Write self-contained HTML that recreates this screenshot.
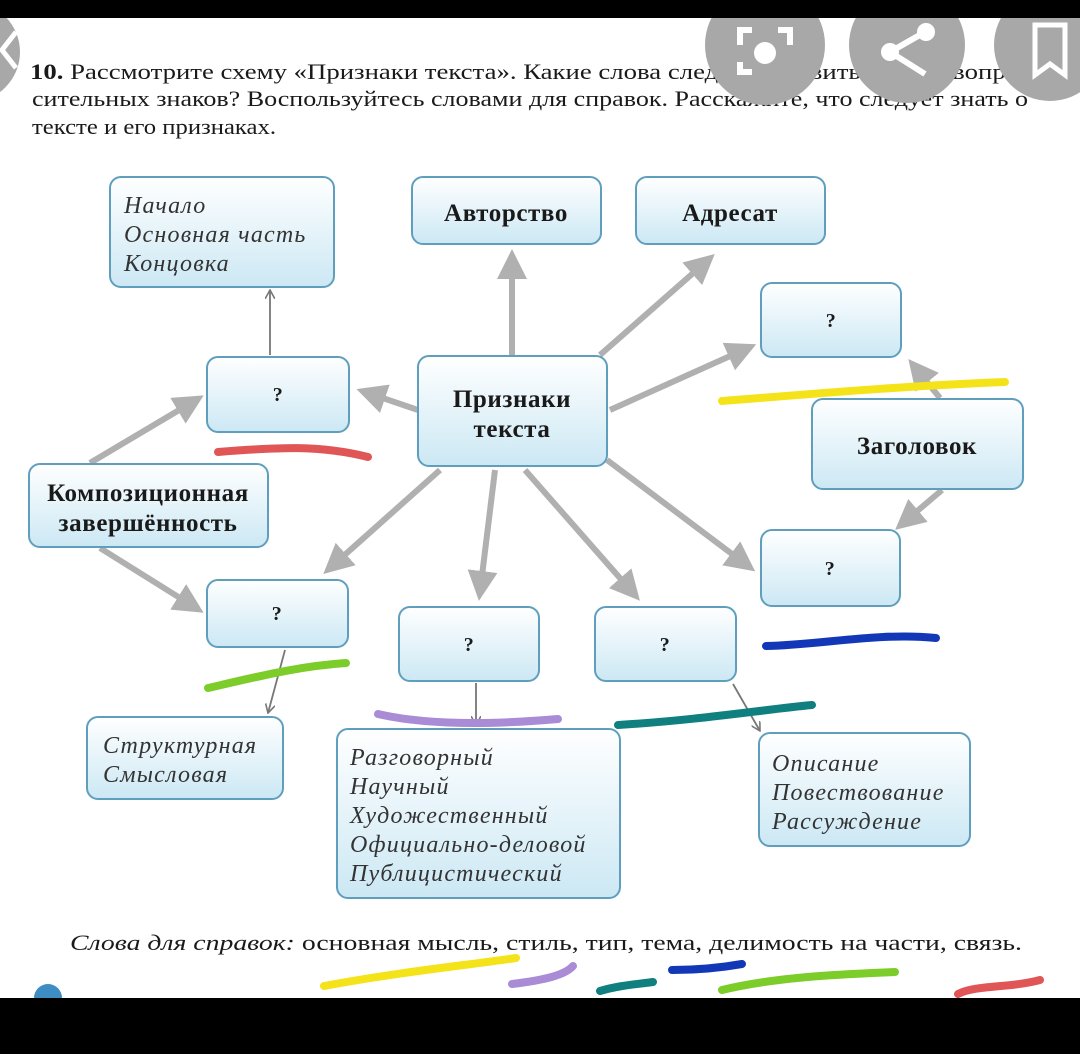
<!DOCTYPE html>
<html><head><meta charset="utf-8"><style>
html,body{margin:0;padding:0;background:#fff;}
svg{display:block;}
.s{font-family:"Liberation Serif",serif;fill:#1a1a1a;}
.b{font-weight:bold;font-size:25px;letter-spacing:0.6px;}
.i{font-style:italic;font-size:24px;letter-spacing:1.2px;fill:#333;}
</style></head><body>
<svg width="1080" height="1054" viewBox="0 0 1080 1054" xmlns="http://www.w3.org/2000/svg">
<defs>
<linearGradient id="g" x1="0" y1="0" x2="0" y2="1"><stop offset="0" stop-color="#ffffff"/><stop offset="1" stop-color="#cce8f4"/></linearGradient>
<marker id="ah" markerWidth="5" markerHeight="5" refX="3.5" refY="2.5" orient="auto" markerUnits="strokeWidth"><path d="M0,0 L5,2.5 L0,5 Z" fill="#b0b0b0"/></marker>
<marker id="th" markerWidth="10" markerHeight="10" refX="9" refY="5" orient="auto" markerUnits="userSpaceOnUse"><path d="M0,0 L9,5 L0,10" fill="none" stroke="#777" stroke-width="1.6"/></marker>
</defs>
<rect width="1080" height="1054" fill="#fff"/>
<g class="s" font-size="22">
<text x="30" y="79" textLength="998" lengthAdjust="spacingAndGlyphs"><tspan font-weight="bold">10.</tspan> Рассмотрите схему «Признаки текста». Какие слова следует вставить вместо вопро-</text>
<text x="32" y="106" textLength="996" lengthAdjust="spacingAndGlyphs">сительных знаков? Воспользуйтесь словами для справок. Расскажите, что следует знать о</text>
<text x="32" y="134" textLength="244" lengthAdjust="spacingAndGlyphs">тексте и его признаках.</text>
</g>
<g stroke="#b0b0b0" stroke-width="6" fill="none" marker-end="url(#ah)">
<line x1="512" y1="355" x2="512" y2="258"/>
<line x1="600" y1="355" x2="708" y2="260"/>
<line x1="610" y1="410" x2="748" y2="348"/>
<line x1="418" y1="410" x2="365" y2="392"/>
<line x1="440" y1="470" x2="330" y2="568"/>
<line x1="495" y1="470" x2="480" y2="592"/>
<line x1="525" y1="470" x2="634" y2="594"/>
<line x1="607" y1="460" x2="748" y2="566"/>
<line x1="90" y1="463" x2="196" y2="400"/>
<line x1="100" y1="548" x2="196" y2="608"/>
<line x1="940" y1="398" x2="914" y2="366"/>
<line x1="942" y1="490" x2="902" y2="524"/>
</g>
<g stroke="#777" stroke-width="1.8" marker-end="url(#th)">
<line x1="270" y1="355" x2="270" y2="290"/>
<line x1="285" y1="650" x2="268" y2="713"/>
<line x1="476" y1="683" x2="476" y2="725"/>
<line x1="733" y1="684" x2="760" y2="731"/>
</g>
<g fill="url(#g)" stroke="#5f9fbd" stroke-width="2">
<rect x="110" y="177" width="224" height="110" rx="11"/>
<rect x="412" y="177" width="189" height="67" rx="11"/>
<rect x="636" y="177" width="189" height="67" rx="11"/>
<rect x="761" y="283" width="140" height="74" rx="11"/>
<rect x="207" y="357" width="142" height="75" rx="11"/>
<rect x="418" y="356" width="189" height="110" rx="11"/>
<rect x="812" y="399" width="211" height="90" rx="11"/>
<rect x="29" y="464" width="239" height="83" rx="11"/>
<rect x="761" y="530" width="139" height="76" rx="11"/>
<rect x="207" y="580" width="141" height="67" rx="11"/>
<rect x="399" y="607" width="140" height="74" rx="11"/>
<rect x="595" y="607" width="141" height="74" rx="11"/>
<rect x="87" y="717" width="196" height="82" rx="11"/>
<rect x="337" y="729" width="283" height="169" rx="11"/>
<rect x="759" y="733" width="211" height="113" rx="11"/>
</g>
<g class="s b" text-anchor="middle">
<text x="506" y="221">Авторство</text>
<text x="730" y="221">Адресат</text>
<text x="512" y="407">Признаки</text>
<text x="512" y="437">текста</text>
<text x="917" y="454">Заголовок</text>
<text x="148" y="501">Композиционная</text>
<text x="148" y="531">завершённость</text>
<text x="278" y="401" font-size="20">?</text>
<text x="831" y="327" font-size="20">?</text>
<text x="830" y="575" font-size="20">?</text>
<text x="277" y="620" font-size="20">?</text>
<text x="469" y="651" font-size="20">?</text>
<text x="665" y="651" font-size="20">?</text>
</g>
<g class="s i">
<text x="124" y="213">Начало</text>
<text x="124" y="242">Основная часть</text>
<text x="124" y="271">Концовка</text>
<text x="103" y="753">Структурная</text>
<text x="103" y="782">Смысловая</text>
<text x="350" y="765">Разговорный</text>
<text x="350" y="794">Научный</text>
<text x="350" y="823">Художественный</text>
<text x="350" y="852">Официально-деловой</text>
<text x="350" y="881">Публицистический</text>
<text x="772" y="771">Описание</text>
<text x="772" y="800">Повествование</text>
<text x="772" y="829">Рассуждение</text>
</g>
<text class="s" x="70" y="950" font-size="22" textLength="952" lengthAdjust="spacingAndGlyphs"><tspan font-style="italic">Слова для справок:</tspan> основная мысль, стиль, тип, тема, делимость на части, связь.</text>
<g fill="none" stroke-linecap="round" stroke-width="8">
<path d="M722,401 C800,395 900,386 1005,382" stroke="#f5e31a"/>
<path d="M218,452 C280,447 320,445 368,457" stroke="#e05555"/>
<path d="M208,688 C260,676 300,666 346,663" stroke="#7ccc2a"/>
<path d="M378,714 C430,726 500,724 558,719" stroke="#a98bd6"/>
<path d="M618,725 C700,720 760,710 812,705" stroke="#0f7f80"/>
<path d="M766,646 C820,645 880,632 936,638" stroke="#1238b8"/>
<path d="M324,986 C400,972 460,966 516,958" stroke="#f5e31a"/>
<path d="M512,984 C545,980 565,975 573,966" stroke="#a98bd6"/>
<path d="M600,991 C620,985 640,984 653,982" stroke="#0f7f80"/>
<path d="M672,970 C700,970 725,967 742,964" stroke="#1238b8"/>
<path d="M722,990 C780,976 850,974 895,972" stroke="#7ccc2a"/>
<path d="M958,994 C975,985 1010,988 1040,980" stroke="#e05555"/>
</g>
<circle cx="48" cy="998" r="14" fill="#3d8cc2"/>
<g fill="#a8a8a8">
<circle cx="-30" cy="52" r="50"/>
<circle cx="765" cy="45" r="60"/>
<circle cx="907" cy="45" r="58"/>
<circle cx="1050" cy="45" r="56"/>
</g>
<path d="M16,32 L2,50 L16,68" fill="none" stroke="#fff" stroke-width="5"/>
<g fill="none" stroke="#fff" stroke-width="6">
<path d="M740,45 V30 H752 M778,30 H790 V45 M740,62 V72 H752"/>
</g>
<circle cx="765" cy="53" r="11" fill="#fff"/>
<g stroke="#fff" stroke-width="6"><line x1="890" y1="52" x2="925" y2="32"/><line x1="890" y1="52" x2="925" y2="74"/></g>
<circle cx="890" cy="52" r="9" fill="#fff"/><circle cx="926" cy="32" r="9" fill="#fff"/>
<path d="M1035,25 H1065 V75 L1050,64 L1035,75 Z" fill="none" stroke="#fff" stroke-width="5"/>
<rect x="0" y="0" width="1080" height="18" fill="#000"/>
<rect x="0" y="998" width="1080" height="56" fill="#000"/>
</svg>
</body></html>
